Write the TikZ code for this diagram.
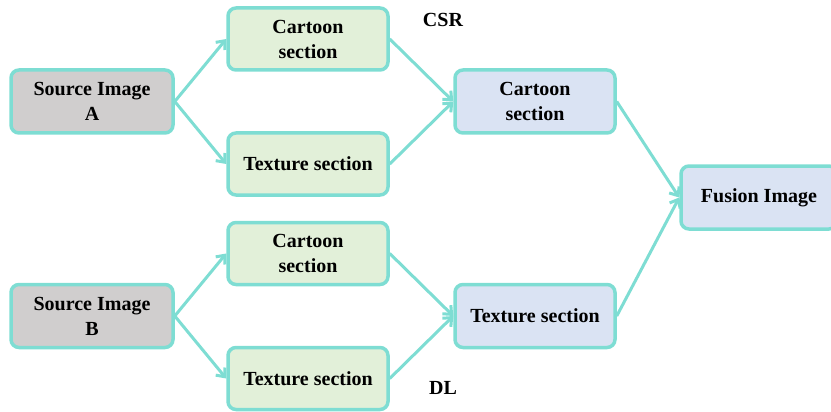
\documentclass[tikz,border=0pt]{standalone}
\usepackage{fontspec}
\setmainfont{Liberation Serif}
\usetikzlibrary{arrows.meta}
\definecolor{edge}{HTML}{7EDDD3}
\definecolor{srcfill}{HTML}{D0CECE}
\definecolor{partfill}{HTML}{E2F0D9}
\definecolor{mergefill}{HTML}{DAE3F3}
\tikzset{
  box/.style={draw=edge, line width=3.5pt, rounded corners=8pt, align=center,
    font=\fontsize{20}{25}\selectfont\bfseries, inner sep=0pt},
  srcbox/.style={box, fill=srcfill, minimum width=162pt, minimum height=63pt},
  partbox/.style={box, fill=partfill, minimum width=160pt, minimum height=62pt},
  mergebox/.style={box, fill=mergefill, minimum width=160pt, minimum height=63pt},
  link/.style={draw=edge, line width=3pt, -{Straight Barb[length=7pt,width=12pt,line width=3pt]}},
  tag/.style={font=\fontsize{20}{25}\selectfont\bfseries}
}
\begin{document}
\begin{tikzpicture}[x=1pt,y=-1pt]
\useasboundingbox (0,0) rectangle (831,412);
\node[srcbox] (srcA) at (92,101.5) {Source Image\\A};
\node[srcbox] (srcB) at (92,316) {Source Image\\B};
\node[partbox] (cartA) at (308,39) {Cartoon\\section};
\node[partbox] (textA) at (308,164) {Texture section};
\node[partbox] (cartB) at (308,253.5) {Cartoon\\section};
\node[partbox] (textB) at (308,378.5) {Texture section};
\node[mergebox] (cartM) at (535,101.5) {Cartoon\\section};
\node[mergebox] (textM) at (535,316) {Texture section};
\node[mergebox, minimum width=156pt] (fuse) at (759,197.5) {Fusion Image};
\node[tag] (csr) at (443,20) {CSR};
\node[tag] (dl) at (443,388) {DL};
\draw[link] (srcA.east) -- (cartA.west);
\draw[link] (srcA.east) -- (textA.west);
\draw[link] (srcB.east) -- (cartB.west);
\draw[link] (srcB.east) -- (textB.west);
\draw[link] (cartA.east) -- (cartM.west);
\draw[link] (textA.east) -- (cartM.west);
\draw[link] (cartB.east) -- (textM.west);
\draw[link] (textB.east) -- (textM.west);
\draw[link] (cartM.east) -- (fuse.west);
\draw[link] (textM.east) -- (fuse.west);
\end{tikzpicture}
\end{document}
